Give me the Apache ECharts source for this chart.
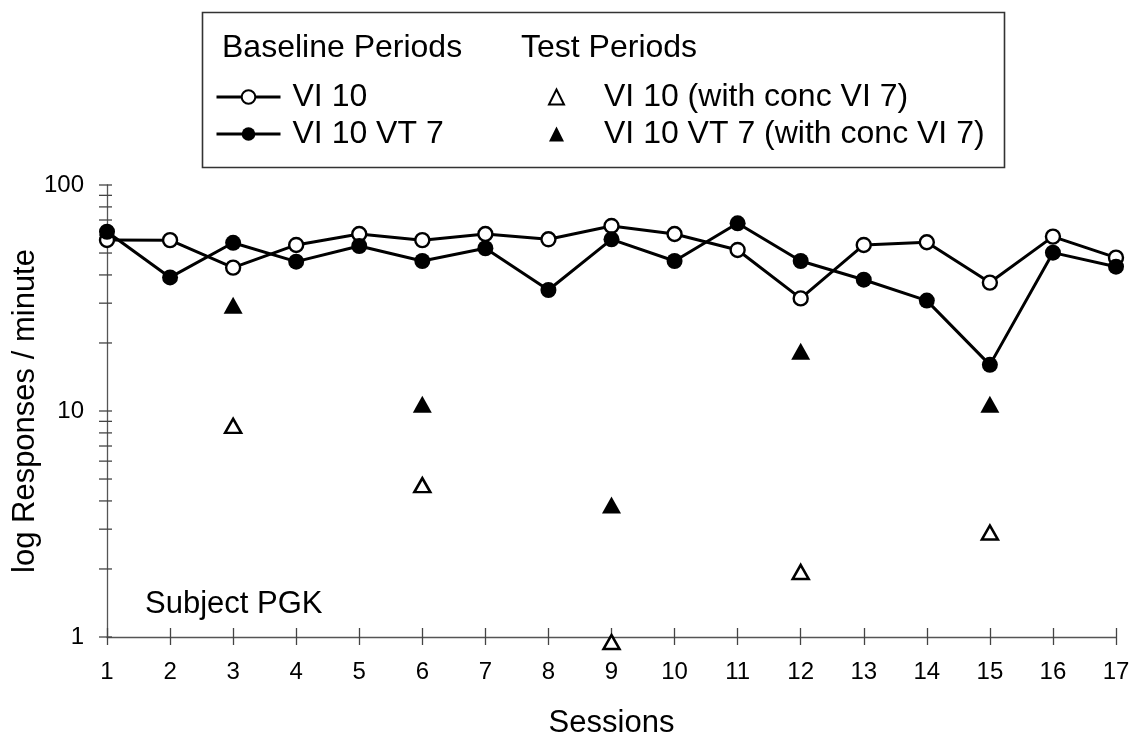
<!DOCTYPE html>
<html><head><meta charset="utf-8">
<script src="https://cdn.jsdelivr.net/npm/echarts@6/dist/echarts.min.js"></script>
<style>html,body{margin:0;padding:0;background:#fff}#c{width:1136px;height:740px}</style>
</head><body><div id="c"></div>
<script>
// ---- data ----
const sessions = [1,2,3,4,5,6,7,8,9,10,11,12,13,14,15,16,17];
const baseVI10 = [57.1,57.0,43.1,54.3,60.7,57.0,60.7,57.5,65.9,60.7,51.6,31.5,54.3,55.8,37.0,59.1,47.7];
const baseVI10VT7 = [62.1,39.0,55.5,45.8,53.7,46.1,52.5,34.3,57.5,46.1,67.7,46.1,38.1,30.8,16.0,50.2,43.5];
const testSessions = [3,6,9,12,15];
const testVI10 = [8.6,4.7,0.95,1.94,2.9];
const testVI10VT7 = [29.4,10.7,3.84,18.4,10.7];
const yTickValues = [1,2,3,4,5,6,7,8,9,10,20,30,40,50,60,70,80,90,100];
const legendBaseline = ['VI 10','VI 10 VT 7'];
const legendTest = ['VI 10 (with conc VI 7)','VI 10 VT 7 (with conc VI 7)'];

const FONT = "'Liberation Sans', Arial, Helvetica, sans-serif";
const pair = (xs, ys) => xs.map((x, i) => [x, ys[i]]);

const chart = echarts.init(document.getElementById('c'), null, {renderer: 'canvas'});
const xAxisBase = {
  type: 'value', min: 1, max: 17, interval: 1, position: 'bottom',
  splitLine: {show: false}
};
chart.setOption({
  backgroundColor: '#fff',
  animation: false,
  textStyle: {fontFamily: FONT, color: '#000'},
  grid: {left: 107, right: 20, top: 185, bottom: 103, containLabel: false, outerBoundsMode: 'none'},
  xAxis: [
    Object.assign({}, xAxisBase, {
      name: 'Sessions', nameLocation: 'middle', nameGap: 71, nameMoveOverlap: false,
      nameTextStyle: {fontSize: 31, color: '#000', fontFamily: FONT},
      axisLine: {show: true, lineStyle: {color: '#555', width: 1.3}},
      axisTick: {show: true, inside: false, length: 8, lineStyle: {color: '#444', width: 1.3}},
      axisLabel: {show: true, margin: 23, fontSize: 24, color: '#000', fontFamily: FONT}
    }),
    Object.assign({}, xAxisBase, {
      axisLine: {show: false},
      axisTick: {show: true, inside: true, length: 9, lineStyle: {color: '#444', width: 1.3}},
      axisLabel: {show: false}
    })
  ],
  yAxis: {
    type: 'log', logBase: 10, min: 1, max: 100, splitNumber: 2,
    name: 'log Responses / minute', nameLocation: 'middle', nameGap: 66, nameMoveOverlap: false,
    nameTextStyle: {fontSize: 31, color: '#000', fontFamily: FONT},
    axisLine: {show: true, lineStyle: {color: '#555', width: 1.3}},
    axisTick: {show: false},
    splitLine: {show: false},
    axisLabel: {margin: 23, fontSize: 24, color: '#000', fontFamily: FONT}
  },
  legend: [
    {
      data: legendBaseline, orient: 'vertical', left: 215, top: 81, padding: 0,
      itemWidth: 64, itemHeight: 17, itemGap: 5,
      lineStyle: {color: '#000', width: 3},
      textStyle: {fontSize: 32, color: '#000', fontFamily: FONT, lineHeight: 32, padding: [0,0,0,7]},
      selectedMode: false
    },
    {
      data: legendTest, orient: 'vertical', left: 548, top: 81, padding: 0,
      itemWidth: 15, itemHeight: 15, itemGap: 5,
      textStyle: {fontSize: 32, color: '#000', fontFamily: FONT, lineHeight: 32, padding: [0,0,0,35]},
      selectedMode: false
    }
  ],
  graphic: [
    {type: 'rect', left: 200, top: 10, shape: {width: 802, height: 155},
     style: {fill: 'none', stroke: '#333', lineWidth: 1.6}, silent: true},
    {type: 'text', left: 222, top: 32,
     style: {text: 'Baseline Periods', font: '32px ' + FONT, fill: '#000'}},
    {type: 'text', left: 521, top: 32,
     style: {text: 'Test Periods', font: '32px ' + FONT, fill: '#000'}},
    {type: 'text', left: 145, top: 589,
     style: {text: 'Subject PGK', font: '31px ' + FONT, fill: '#000'}}
  ],
  series: [
    {
      name: 'VI 10', type: 'line', data: pair(sessions, baseVI10),
      symbol: 'circle', symbolSize: 14, showSymbol: true,
      lineStyle: {color: '#000', width: 3},
      itemStyle: {color: '#fff', borderColor: '#000', borderWidth: 2.4},
      z: 3
    },
    {
      name: 'VI 10 VT 7', type: 'line', data: pair(sessions, baseVI10VT7),
      symbol: 'circle', symbolSize: 16, showSymbol: true,
      lineStyle: {color: '#000', width: 3},
      itemStyle: {color: '#000', borderColor: '#000', borderWidth: 0},
      z: 4
    },
    {
      name: 'VI 10 (with conc VI 7)', type: 'scatter', data: pair(testSessions, testVI10),
      symbol: 'triangle', symbolSize: [16, 14], clip: false,
      itemStyle: {color: '#fff', borderColor: '#000', borderWidth: 2.5, opacity: 1},
      z: 5
    },
    {
      name: 'VI 10 VT 7 (with conc VI 7)', type: 'scatter', data: pair(testSessions, testVI10VT7),
      symbol: 'triangle', symbolSize: [19, 17], clip: false,
      itemStyle: {color: '#000', opacity: 1},
      z: 5
    },
    {
      name: 'yticks', type: 'scatter', data: yTickValues.map(v => [1, v]),
      symbol: 'rect', symbolSize: [13, 1.3], symbolOffset: [-1.5, 0], clip: false, silent: true,
      itemStyle: {color: '#444', opacity: 1}, z: 2
    }
  ]
});
</script></body></html>
